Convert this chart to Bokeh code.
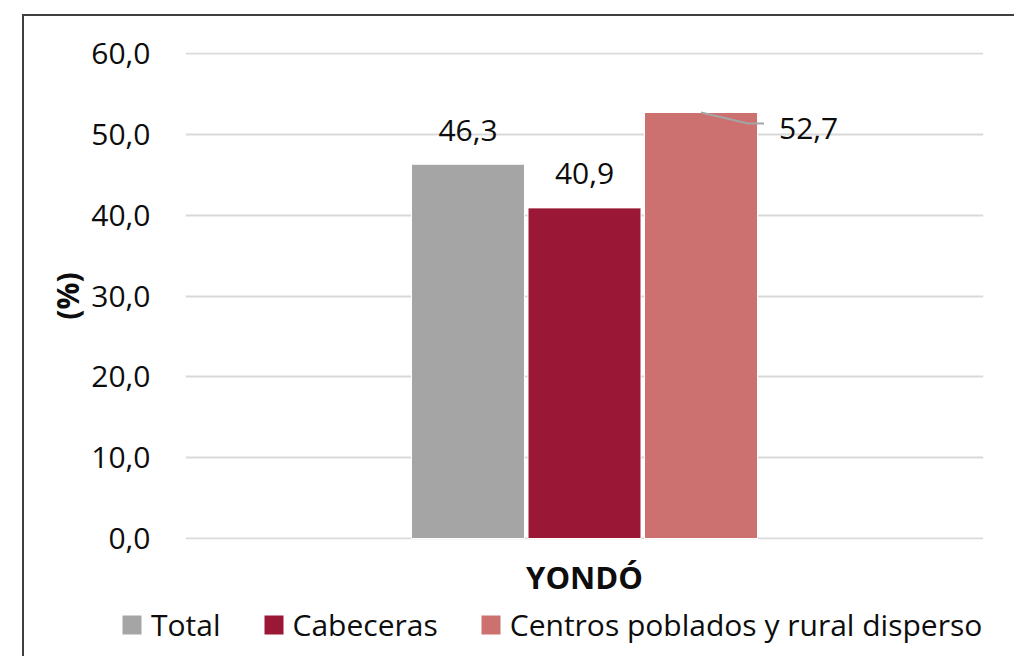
from bokeh.plotting import figure
from bokeh.models import FactorRange, Range1d, FixedTicker, ColumnDataSource, Legend, LegendItem
from bokeh.transform import dodge
from bokeh.core.properties import value
from bokeh.embed import file_html
from bokeh.resources import INLINE

categories = ["YONDÓ"]
series = ["Total", "Cabeceras", "Centros poblados y rural disperso"]
values = [46.3, 40.9, 52.7]
value_labels = ["46,3", "40,9", "52,7"]
colors = ["#A5A5A5", "#9A1736", "#CC7170"]
y_ticks = [0, 10, 20, 30, 40, 50, 60]
y_tick_labels = ["0,0", "10,0", "20,0", "30,0", "40,0", "50,0", "60,0"]

FONT = "Open Sans"
BAR_W = 0.1416
STEP = 0.146
offsets = [-STEP, 0.0, STEP]

# ---------------- main chart ----------------
p = figure(x_range=FactorRange(*categories, range_padding=0), y_range=Range1d(-0.12, 60.12),
           frame_width=798, frame_height=487, output_backend="svg", toolbar_location=None,
           min_border_left=161, min_border_right=31, min_border_top=36, min_border_bottom=60)
p.styles = {"border-left": "2px solid #404040", "border-top": "2px solid #404040",
            "border-right": "none", "border-bottom": "none",
            "margin-left": "22px", "margin-top": "14px"}
p.outline_line_color = None
p.background_fill_color = "white"
p.border_fill_color = "white"

for i, s in enumerate(series):
    src = ColumnDataSource(dict(x=categories, top=[values[i]], lab=[value_labels[i]]))
    p.vbar(x=dodge("x", offsets[i], range=p.x_range), top="top", width=BAR_W,
           color=colors[i], line_color="white", line_width=1, source=src)
    if i < 2:
        p.text(x=dodge("x", offsets[i], range=p.x_range), y="top", text="lab", source=src,
               text_align="center", text_baseline="middle", y_offset=-34,
               text_font=value(FONT), text_font_size="30px", text_color="#0d0d0d")
    else:
        p.text(x=dodge("x", offsets[i], range=p.x_range), y="top", text="lab", source=src,
               text_align="left", text_baseline="middle", x_offset=78, y_offset=16,
               text_font=value(FONT), text_font_size="30px", text_color="#0d0d0d")
        v = values[i]
        cx = 0.5 + offsets[i]
        p.line(x=[cx, cx + 0.059, cx + 0.079], y=[v, v - 1.36, v - 1.36],
               line_color="#A5A5A5", line_width=2)

p.yaxis.ticker = FixedTicker(ticks=y_ticks)
p.yaxis.major_label_overrides = {t: l for t, l in zip(y_ticks, y_tick_labels)}
p.yaxis.axis_line_color = None
p.yaxis.major_tick_line_color = None
p.yaxis.minor_tick_line_color = None
p.yaxis.major_tick_out = 0
p.yaxis.major_label_standoff = 35
p.yaxis.major_label_text_font = FONT
p.yaxis.major_label_text_font_size = "30px"
p.yaxis.major_label_text_color = "#0d0d0d"
p.yaxis.axis_label = "(%)"
p.yaxis.axis_label_text_font = FONT
p.yaxis.axis_label_text_font_size = "30px"
p.yaxis.axis_label_text_font_style = "bold"
p.yaxis.axis_label_text_color = "#0d0d0d"
p.yaxis.axis_label_standoff = 0

p.xaxis.axis_line_color = None
p.xaxis.major_tick_line_color = None
p.xaxis.minor_tick_line_color = None
p.xaxis.major_tick_out = 0
p.xaxis.major_label_standoff = 16
p.xaxis.major_label_text_font = FONT
p.xaxis.major_label_text_font_size = "31px"
p.xaxis.major_label_text_font_style = "bold"
p.xaxis.major_label_text_color = "#0d0d0d"

p.xgrid.grid_line_color = None
p.ygrid.grid_line_color = "#D9D9D9"
p.ygrid.grid_line_width = 2

# ---------------- legend strip below the chart ----------------
q = figure(x_range=FactorRange(*categories, range_padding=0), y_range=Range1d(100, 200),
           frame_width=990, frame_height=56, output_backend="svg", toolbar_location=None,
           x_axis_location=None, y_axis_location=None, min_border=0)
q.styles = {"border-left": "2px solid #404040", "border-top": "none",
            "border-right": "none", "border-bottom": "none", "margin-left": "22px"}
q.outline_line_color = None
q.grid.visible = False
q.background_fill_color = "white"
q.border_fill_color = "white"

items = []
for i, s in enumerate(series):
    src = ColumnDataSource(dict(x=categories, top=[values[i]]))
    r = q.vbar(x=dodge("x", offsets[i], range=q.x_range), top="top", width=BAR_W,
               color=colors[i], line_color="white", line_width=1, source=src)
    items.append(LegendItem(label=s, renderers=[r]))

legend = Legend(items=items, orientation="horizontal", location=(95, 11),
                glyph_width=25, glyph_height=25, label_standoff=7, spacing=40,
                padding=0, margin=0, border_line_color=None, background_fill_alpha=0,
                label_text_font=FONT, label_text_font_size="30px", label_text_color="#0d0d0d")
q.add_layout(legend, "center")

open("out.html", "w").write(file_html([p, q], INLINE))
